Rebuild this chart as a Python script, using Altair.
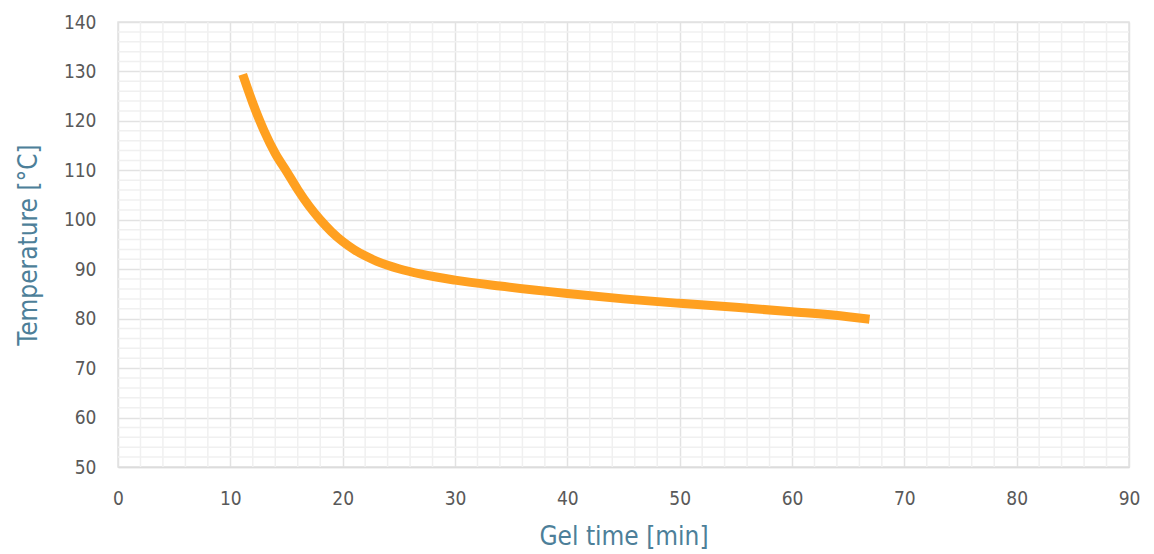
import altair as alt
import pandas as pd

gel_time = [11.1, 12.0, 13.0, 14.0, 15.0, 16.0, 17.0, 18.0, 19.0, 20.0, 21.0, 22.0, 23.0, 24.0, 25.0,
            27.0, 30.0, 34.0, 40.0, 45.0, 50.0, 55.0, 60.0, 65.0, 66.9]
temperature = [129.4, 123.6, 118.0, 113.4, 109.8, 106.1, 102.8, 100.0, 97.6, 95.6, 94.0, 92.7, 91.65,
               90.8, 90.1, 89.0, 87.8, 86.6, 85.1, 84.0, 83.1, 82.3, 81.4, 80.4, 79.9]

x_ticks = list(range(0, 91, 10))
y_ticks = list(range(50, 141, 10))
x_minor = [v for v in range(0, 91, 2) if v % 10 != 0]
y_minor = [v for v in range(50, 141, 2) if v % 10 != 0]

FONT = "Liberation Sans Narrow, DejaVu Sans Condensed, Roboto"
TITLE_COLOR = "#4D7F99"
LABEL_COLOR = "#595959"

df = pd.DataFrame({"t": gel_time, "T": temperature})
xs = alt.Scale(domain=[0, 90], nice=False, zero=False)
ys = alt.Scale(domain=[50, 140], nice=False, zero=False)

vminor = alt.Chart(pd.DataFrame({"v": x_minor})).mark_rule(color="#f0f0f0", strokeWidth=1.5).encode(
    x=alt.X("v:Q", scale=xs))
hminor = alt.Chart(pd.DataFrame({"v": y_minor})).mark_rule(color="#f0f0f0", strokeWidth=1.5).encode(
    y=alt.Y("v:Q", scale=ys))

line = alt.Chart(df).mark_line(color="#FFA020", strokeWidth=9, interpolate="monotone").encode(
    x=alt.X("t:Q", scale=xs, title="Gel time [min]",
            axis=alt.Axis(values=x_ticks, grid=True, gridColor="#e2e2e2", gridWidth=1.5,
                          domain=True, domainColor="#dcdcdc", domainWidth=1.5, ticks=False,
                          labelFlush=False,
                          labelFont=FONT, labelFontSize=19, labelColor=LABEL_COLOR, labelPadding=22,
                          titleFont=FONT, titleFontSize=26, titleColor=TITLE_COLOR,
                          titleFontWeight="normal", titlePadding=15)),
    y=alt.Y("T:Q", scale=ys, title="Temperature [°C]",
            axis=alt.Axis(values=y_ticks, grid=True, gridColor="#e2e2e2", gridWidth=1.5,
                          domain=False, ticks=False,
                          labelFont=FONT, labelFontSize=19, labelColor=LABEL_COLOR, labelPadding=22,
                          titleFont=FONT, titleFontSize=26, titleColor=TITLE_COLOR,
                          titleFontWeight="normal", titlePadding=22)),
)

chart = alt.layer(vminor, hminor, line).properties(
    width=1011, height=445,
    autosize=alt.AutoSizeParams(type="none"),
    padding={"left": 110, "top": 14, "right": 17, "bottom": 87},
).configure_view(stroke="#e2e2e2", strokeWidth=1.5)

chart.save("out.html", embed_options={"renderer": "svg", "actions": False})
